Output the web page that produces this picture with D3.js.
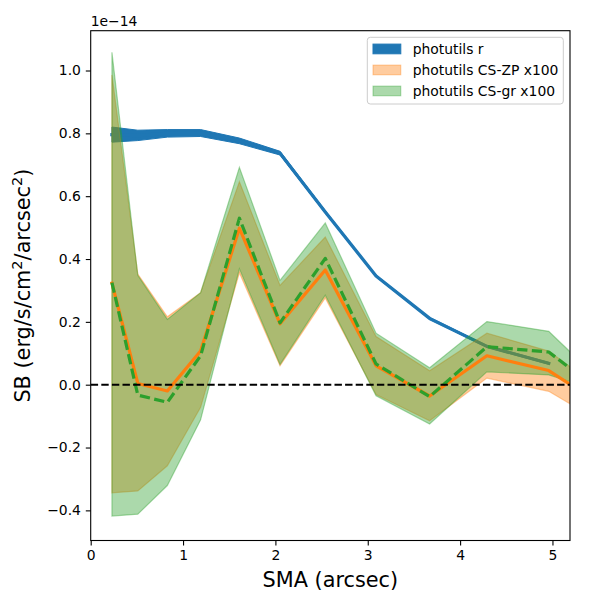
<!DOCTYPE html>
<html>
<head>
<meta charset="utf-8">
<script src="https://cdn.jsdelivr.net/npm/d3@7"></script>
<style>
  body { margin: 0; background: #fff; }
  text { font-family: "DejaVu Sans", sans-serif; fill: #000; }
</style>
</head>
<body>
<svg id="chart" width="600" height="600"></svg>
<script>
// SMA (arcsec)
const sma = [0.23, 0.51, 0.83, 1.19, 1.61, 2.05, 2.54, 3.09, 3.67, 4.29, 4.96, 5.19];
// photutils r (units of 1e-14)
const rMid = [0.796, 0.793, 0.800, 0.801, 0.776, 0.737, 0.550, 0.346, 0.211, 0.122, 0.068];
const rLo  = [0.772, 0.777, 0.788, 0.790, 0.767, 0.731, 0.546, 0.343, 0.208, 0.119, 0.065];
const rHi  = [0.820, 0.810, 0.812, 0.812, 0.785, 0.743, 0.554, 0.349, 0.214, 0.125, 0.071];
// photutils CS-ZP x100
const zpMid = [0.323, 0.004, -0.020, 0.107, 0.498, 0.194, 0.365, 0.060, -0.036, 0.092, 0.045, 0.001];
const zpHi  = [0.986, 0.352, 0.216, 0.293, 0.646, 0.316, 0.470, 0.153, 0.044, 0.164, 0.107, 0.057];
const zpLo  = [-0.344, -0.338, -0.258, -0.072, 0.356, 0.060, 0.276, -0.031, -0.115, 0.021, -0.021, -0.061];
// photutils CS-gr x100
const grMid = [0.325, -0.033, -0.056, 0.092, 0.530, 0.197, 0.402, 0.066, -0.038, 0.121, 0.104, 0.052];
const grHi  = [1.058, 0.348, 0.208, 0.293, 0.692, 0.332, 0.515, 0.164, 0.054, 0.201, 0.170, 0.105];
const grLo  = [-0.418, -0.412, -0.321, -0.112, 0.369, 0.064, 0.285, -0.035, -0.125, 0.041, 0.031, 0.010];

const xTicks = [0, 1, 2, 3, 4, 5];
const yTicks = [-0.4, -0.2, 0.0, 0.2, 0.4, 0.6, 0.8, 1.0];
const legendLabels = ["photutils r", "photutils CS-ZP x100", "photutils CS-gr x100"];

const L = 90.7, R = 570, T = 30.7, B = 540.5;
const svg = d3.select("#chart");

const x = d3.scaleLinear().domain([0, 5.19]).range([L, R]);
const y = d3.scaleLinear().domain([-0.4959, 1.1267]).range([B, T]);

const blue = "#1f77b4", orange = "#ff7f0e", green = "#2ca02c";

svg.append("defs").append("clipPath").attr("id", "clip")
  .append("rect").attr("x", L).attr("y", T).attr("width", R - L).attr("height", B - T);

const plot = svg.append("g").attr("clip-path", "url(#clip)");

function band(lo, hi) {
  return d3.area()
    .x((d, i) => x(sma[i]))
    .y0((d, i) => y(lo[i]))
    .y1((d, i) => y(hi[i]))(lo);
}
function line(vals) {
  return d3.line().x((d, i) => x(sma[i])).y(d => y(d))(vals);
}

// photutils r band + line
plot.append("path").attr("d", band(rLo, rHi))
  .attr("fill", blue).attr("stroke", blue).attr("stroke-width", 1);
plot.append("path").attr("d", line(rMid))
  .attr("fill", "none").attr("stroke", blue).attr("stroke-width", 3.3)
  .attr("stroke-linecap", "square").attr("stroke-linejoin", "round");

// CS-ZP band
plot.append("path").attr("d", band(zpLo, zpHi))
  .attr("fill", orange).attr("fill-opacity", 0.4)
  .attr("stroke", orange).attr("stroke-opacity", 0.4).attr("stroke-width", 1.2);
// CS-gr band
plot.append("path").attr("d", band(grLo, grHi))
  .attr("fill", green).attr("fill-opacity", 0.4)
  .attr("stroke", green).attr("stroke-opacity", 0.4).attr("stroke-width", 1.2);

// lines
plot.append("path").attr("d", line(zpMid))
  .attr("fill", "none").attr("stroke", orange).attr("stroke-width", 3.2)
  .attr("stroke-linecap", "square").attr("stroke-linejoin", "round");
plot.append("path").attr("d", line(grMid))
  .attr("fill", "none").attr("stroke", green).attr("stroke-width", 3.2)
  .attr("stroke-dasharray", "10.3,4.4").attr("stroke-linejoin", "round");

// zero line
plot.append("line").attr("x1", L).attr("x2", R).attr("y1", y(0)).attr("y2", y(0))
  .attr("stroke", "#000").attr("stroke-width", 2).attr("stroke-dasharray", "7.4,3.2");

// axes
const xAxis = d3.axisBottom(x).tickValues(xTicks).tickSize(4.9).tickPadding(4.9).tickFormat(d3.format("d"));
const gx = svg.append("g").attr("transform", `translate(0,${B})`).call(xAxis);
const yAxis = d3.axisLeft(y).tickValues(yTicks).tickSize(4.9).tickPadding(4.9).tickFormat(d3.format(".1f"));
const gy = svg.append("g").attr("transform", `translate(${L},0)`).call(yAxis);
[gx, gy].forEach(g => {
  g.select(".domain").remove();
  g.selectAll(".tick line").attr("stroke", "#000").attr("stroke-width", 1.1);
  g.selectAll(".tick text").attr("font-size", "13.9px").attr("font-family", "DejaVu Sans").attr("fill", "#000");
});
gy.selectAll(".tick text").text(d => d3.format(".1f")(d).replace("-", "\u2212"));

// frame
svg.append("rect").attr("x", L).attr("y", T).attr("width", R - L).attr("height", B - T)
  .attr("fill", "none").attr("stroke", "#000").attr("stroke-width", 1.1);

// offset text
svg.append("text").attr("x", L).attr("y", 26).attr("font-size", "13.9px").text("1e\u221214");

// axis labels
svg.append("text").attr("x", (L + R) / 2).attr("y", 587).attr("text-anchor", "middle")
  .attr("font-size", "20.8px").text("SMA (arcsec)");
const yl = svg.append("text").attr("transform", `translate(30,${(T + B) / 2}) rotate(-90)`)
  .attr("text-anchor", "middle").attr("font-size", "20.8px");
yl.append("tspan").text("SB (erg/s/cm");
yl.append("tspan").attr("dy", -8).attr("font-size", "14.6px").text("2");
yl.append("tspan").attr("dy", 8).text("/arcsec");
yl.append("tspan").attr("dy", -8).attr("font-size", "14.6px").text("2");
yl.append("tspan").attr("dy", 8).text(")");

// legend
const lg = svg.append("g");
lg.append("rect").attr("x", 367.3).attr("y", 37.3).attr("width", 196).attr("height", 66.7)
  .attr("rx", 3).attr("fill", "#fff").attr("fill-opacity", 0.8)
  .attr("stroke", "#cccccc").attr("stroke-width", 1);
const legColors = [[blue, 1], [orange, 0.4], [green, 0.4]];
legendLabels.forEach((lab, i) => {
  const cy = 49 + i * 21;
  lg.append("rect").attr("x", 373).attr("y", cy - 4.9).attr("width", 27.8).attr("height", 9.7)
    .attr("fill", legColors[i][0]).attr("fill-opacity", legColors[i][1])
    .attr("stroke", legColors[i][0]).attr("stroke-opacity", legColors[i][1]).attr("stroke-width", 1);
  lg.append("text").attr("x", 412.7).attr("y", cy).attr("dy", "0.36em")
    .attr("font-size", "13.9px").text(lab);
});
</script>
</body>
</html>
